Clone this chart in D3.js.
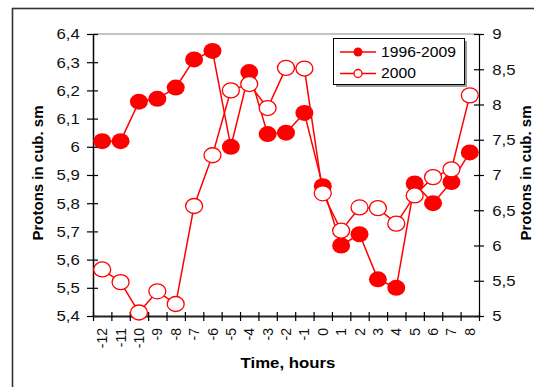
<!DOCTYPE html>
<meta charset="utf-8">
<script src="https://d3js.org/d3.v7.min.js"></script>
<style>
  body { margin: 0; background: #fff; }
  text { font-family: "Liberation Sans", Arial, sans-serif; }
</style>
<div id="chart"></div>
<script>

// hours relative to the event
var hours = [-12,-11,-10,-9,-8,-7,-6,-5,-4,-3,-2,-1,0,1,2,3,4,5,6,7,8];

// 1996-2009 average, left axis
var meanValues = [6.02,6.02,6.16,6.17,6.21,6.31,6.34,6.00,6.265,6.045,6.05,6.12,5.86,5.65,5.69,5.53,5.50,5.87,5.80,5.875,5.98];

// 2000, right axis
var year2000 = [5.66,5.48,5.05,5.35,5.17,6.56,7.28,8.20,8.29,7.95,8.52,8.51,6.74,6.21,6.54,6.53,6.31,6.71,6.97,7.08,8.13];

var leftTicks = [5.4,5.5,5.6,5.7,5.8,5.9,6.0,6.1,6.2,6.3,6.4];
var rightTicks = [5,5.5,6,6.5,7,7.5,8,8.5,9];

var W = 534, H = 387;
var pLeft = 93, pRight = 479, pTop = 34, pBottom = 316;
var sx = 1.2;  // the picture is a bit stretched sideways

var comma = d3.formatLocale({decimal: ",", thousands: " ", grouping: [3], currency: ["", ""]});

var svg = d3.select("#chart")
  .append("svg")
    .attr("width", W)
    .attr("height", H);

// outer frame (runs off the picture at right and bottom)
svg.append("rect")
  .attr("x", 12.5).attr("y", 8.5)
  .attr("width", 600).attr("height", 500)
  .style("fill", "none").style("stroke", "#333").style("stroke-width", 1.6);

var x = d3.scaleBand().domain(hours).range([pLeft, pRight]).padding(0);
var xEdge = d3.scaleLinear().domain([0, hours.length]).range([pLeft, pRight]);
var yL = d3.scaleLinear().domain([5.4, 6.4]).range([pBottom, pTop]);
var yR = d3.scaleLinear().domain([5, 9]).range([pBottom, pTop]);

// top border of plot area
svg.append("line")
  .attr("x1", pLeft).attr("x2", pRight).attr("y1", pTop).attr("y2", pTop)
  .style("stroke", "#8a8a8a").style("stroke-width", 1.2);

// left axis
var gL = svg.append("g")
  .attr("transform", "translate(" + pLeft + ",0)")
  .call(d3.axisLeft(yL).tickValues(leftTicks).tickFormat(comma.format(".1~f")).tickSizeOuter(0));
gL.select(".domain").style("stroke", "#000").style("stroke-width", 1.5);
gL.selectAll(".tick line").attr("x1", 5).attr("x2", -6).style("stroke-width", 1.2);
gL.selectAll(".tick text")
  .attr("x", -11).attr("dy", "0.35em")
  .attr("transform", "scale(" + sx + ",1)")
  .style("font-size", "14px").style("fill", "#111");

// right axis
var gR = svg.append("g")
  .attr("transform", "translate(" + pRight + ",0)")
  .call(d3.axisRight(yR).tickValues(rightTicks).tickFormat(comma.format(".1~f")).tickSizeOuter(0));
gR.select(".domain").style("stroke", "#000").style("stroke-width", 1.2);
gR.selectAll(".tick line").attr("x1", -5).attr("x2", 5).style("stroke-width", 1.2);
gR.selectAll(".tick text")
  .attr("x", 11).attr("dy", "0.35em")
  .attr("transform", "scale(" + sx + ",1)")
  .style("font-size", "14px").style("fill", "#111");

// bottom axis: ticks on the band edges, labels in the middle
var gB = svg.append("g")
  .attr("transform", "translate(0," + pBottom + ")")
  .call(d3.axisBottom(xEdge).tickValues(d3.range(hours.length + 1)).tickFormat("").tickSizeOuter(0));
gB.select(".domain").style("stroke", "#222").style("stroke-width", 2);
gB.selectAll(".tick line").attr("y1", -4).attr("y2", 5).style("stroke-width", 1.2);

svg.append("g").selectAll("text")
  .data(hours)
  .enter()
  .append("text")
    .attr("transform", function(d) { return "translate(" + (x(d) + x.bandwidth() / 2) + "," + (pBottom + 12) + ") rotate(-90)"; })
    .attr("dy", "0.36em")
    .style("text-anchor", "end")
    .style("font-size", "14px")
    .style("fill", "#111")
    .text(function(d) { return d; });

// axis titles
svg.append("text")
  .attr("transform", "translate(" + 288 + "," + 368 + ") scale(" + sx + ",1)")
  .style("text-anchor", "middle")
  .style("font-size", "14px").style("font-weight", "bold")
  .text("Time, hours");

svg.append("text")
  .attr("transform", "translate(38,173) rotate(-90)")
  .attr("dy", "0.35em")
  .style("text-anchor", "middle")
  .style("font-size", "15px").style("font-weight", "bold")
  .text("Protons in cub. sm");

svg.append("text")
  .attr("transform", "translate(526,173) rotate(-90)")
  .attr("dy", "0.35em")
  .style("text-anchor", "middle")
  .style("font-size", "15px").style("font-weight", "bold")
  .text("Protons in cub. sm");

var cx = function(d, i) { return x(hours[i]) + x.bandwidth() / 2; };

// series 1996-2009 (filled)
svg.append("path")
  .datum(meanValues)
  .attr("d", d3.line().x(cx).y(function(d) { return yL(d); }))
  .style("fill", "none").style("stroke", "#ff0000").style("stroke-width", 1.5);

svg.selectAll(".m1")
  .data(meanValues)
  .enter()
  .append("ellipse")
    .attr("class", "m1")
    .attr("cx", cx)
    .attr("cy", function(d) { return yL(d); })
    .attr("rx", 9).attr("ry", 8)
    .style("fill", "#ff0000");

// series 2000 (open)
svg.append("path")
  .datum(year2000)
  .attr("d", d3.line().x(cx).y(function(d) { return yR(d); }))
  .style("fill", "none").style("stroke", "#ff0000").style("stroke-width", 1.5);

svg.selectAll(".m2")
  .data(year2000)
  .enter()
  .append("ellipse")
    .attr("class", "m2")
    .attr("cx", cx)
    .attr("cy", function(d) { return yR(d); })
    .attr("rx", 8.5).attr("ry", 7.5)
    .style("fill", "#fff").style("stroke", "#ff0000").style("stroke-width", 1.3);

// Handmade legend
svg.append("rect").attr("x", 336).attr("y", 41).attr("width", 131).attr("height", 46).style("fill", "#999")
svg.append("rect").attr("x", 333.5).attr("y", 38.5).attr("width", 131).attr("height", 46).style("fill", "#fff").style("stroke", "#000")
svg.append("line").attr("x1", 340).attr("x2", 376).attr("y1", 52).attr("y2", 52).style("stroke", "#ff0000").style("stroke-width", 1.3)
svg.append("line").attr("x1", 340).attr("x2", 376).attr("y1", 73.5).attr("y2", 73.5).style("stroke", "#ff0000").style("stroke-width", 1.3)
svg.append("circle").attr("cx", 358).attr("cy", 52).attr("r", 4.5).style("fill", "#ff0000")
svg.append("circle").attr("cx", 358).attr("cy", 73.5).attr("r", 4).style("fill", "#fff").style("stroke", "#ff0000").style("stroke-width", 1.3)
svg.append("text").attr("transform", "translate(381,52) scale(1.12,1)").attr("dy", "0.35em").text("1996-2009").style("font-size", "14px")
svg.append("text").attr("transform", "translate(381,73.5) scale(1.12,1)").attr("dy", "0.35em").text("2000").style("font-size", "14px")

</script>
